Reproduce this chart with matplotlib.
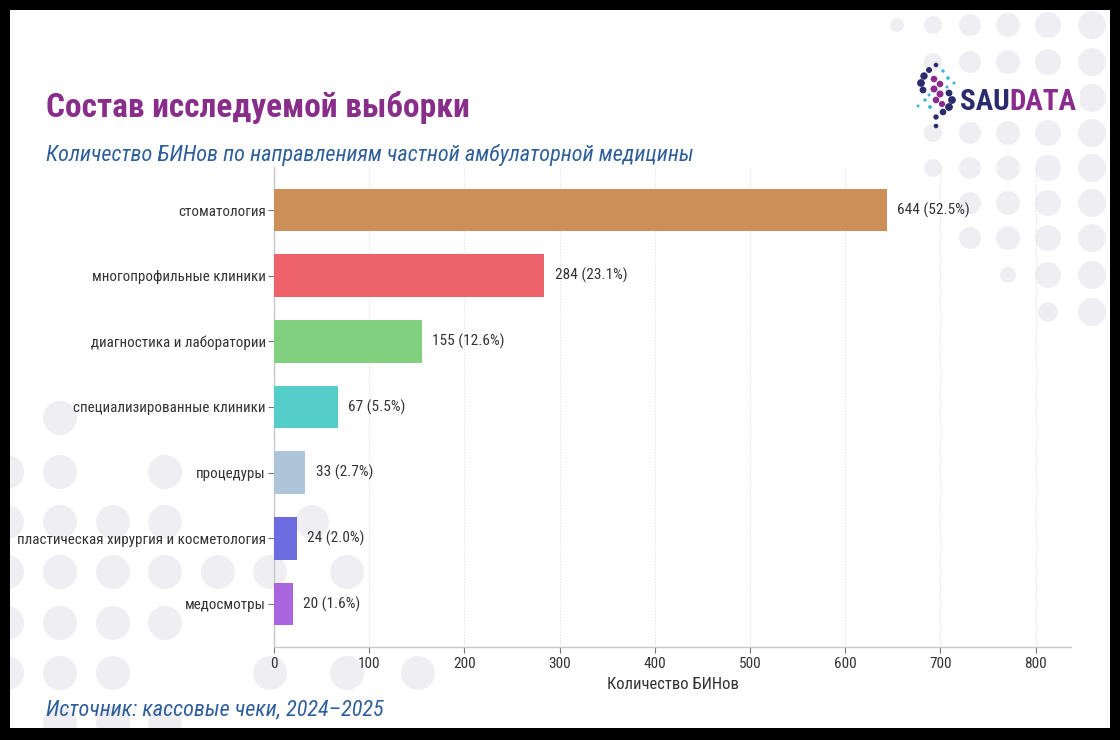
import matplotlib
matplotlib.use("Agg")
import matplotlib.pyplot as plt
from matplotlib.patches import Circle, Rectangle

# ---------------- data ----------------
categories = [
    "стоматология",
    "многопрофильные клиники",
    "диагностика и лаборатории",
    "специализированные клиники",
    "процедуры",
    "пластическая хирургия и косметология",
    "медосмотры",
]
counts = [644, 284, 155, 67, 33, 24, 20]
bar_colors = ["#CD8F58", "#EE626C", "#80D080", "#55CEC9", "#AEC4D8", "#6C6CE0", "#A865DE"]
x_ticks = [0, 100, 200, 300, 400, 500, 600, 700, 800]

title = "Состав исследуемой выборки"
subtitle = "Количество БИНов по направлениям частной амбулаторной медицины"
source = "Источник: кассовые чеки, 2024–2025"
xlabel = "Количество БИНов"

FONT = ["Roboto Condensed", "Roboto", "DejaVu Sans"]
plt.rcParams["font.family"] = FONT

W, H = 1120, 740
fig = plt.figure(figsize=(W / 100, H / 100), dpi=100, facecolor="black")

# ---------------- background layer (pixel coordinates) ----------------
bg = fig.add_axes([0, 0, 1, 1], zorder=-10)
bg.set_xlim(0, W)
bg.set_ylim(H, 0)
bg.axis("off")
bg.add_patch(Rectangle((10, 10), 1100, 718, facecolor="white", edgecolor="none", zorder=0))

circ_col = "#EFEFF3"
# top-right decorative grid
cols_x = [897, 933, 970, 1008, 1048, 1092]
cols_r = [7, 9, 11, 12, 13, 14]
tr_rows = [
    (25, [0, 1, 2, 3, 4, 5]),
    (62, [1, 2, 3, 4, 5]),
    (98, [5]),
    (133, [1, 2, 3, 4, 5]),
    (168, [1, 2, 3, 4, 5]),
    (203, [2, 3, 4, 5]),
    (238, [2, 3, 4, 5]),
    (275, [3, 4, 5]),
    (312, [4, 5]),
]
for cy, idxs in tr_rows:
    for i in idxs:
        r = cols_r[i]
        if cy == 275 and i == 3:
            r = 8
        if cy == 312 and i == 4:
            r = 10
        bg.add_patch(Circle((cols_x[i], cy), r, facecolor=circ_col, edgecolor="none", zorder=1))

# bottom-left decorative grid
bl = [
    (60, 418),
    (7, 472), (60, 472), (165, 472),
    (7, 522), (60, 522), (113, 522), (165, 522), (312, 522),
    (7, 572), (60, 572), (113, 572), (165, 572), (218, 572), (270, 572), (347, 572),
    (7, 623), (60, 623), (113, 623), (165, 623),
    (7, 673), (60, 673), (113, 673), (270, 673), (347, 673), (418, 673),
    (60, 723), (113, 723), (165, 723),
]
for cx, cy in bl:
    bg.add_patch(Circle((cx, cy), 17, facecolor=circ_col, edgecolor="none", zorder=1))

# black frame over circles that spill past the white area
bg.add_patch(Rectangle((0, 0), 10, H, facecolor="black", edgecolor="none", zorder=2))
bg.add_patch(Rectangle((0, 728), W, 12, facecolor="black", edgecolor="none", zorder=2))
bg.add_patch(Rectangle((1110, 0), 10, H, facecolor="black", edgecolor="none", zorder=2))
bg.add_patch(Rectangle((0, 0), W, 10, facecolor="black", edgecolor="none", zorder=2))

# logo (S mark made of dots)
navy = "#2B2B6E"
purple = "#8A2C8C"
teal = "#3BB3D6"
bg.add_patch(Rectangle((912, 77), 168, 43, facecolor="white", edgecolor="none", zorder=2.5))
logo_dots = [
    # upper-left arc (navy)
    (936, 65, 2.3, navy), (929, 70, 3.0, navy), (924, 76, 3.7, navy),
    (921, 83, 3.9, navy), (923, 90, 3.4, navy),
    # diagonal (purple)
    (934, 79, 3.3, purple), (940, 84, 3.3, purple), (934, 89, 3.5, purple),
    (940, 94, 3.5, purple), (936, 100, 3.3, purple), (942, 104, 3.1, purple),
    # lower-right arc (navy)
    (949, 93, 3.4, navy), (952, 100, 3.9, navy), (949, 107, 3.9, navy),
    (943, 112, 3.3, navy), (936, 117, 2.7, navy), (936, 126, 2.3, navy),
    # teal sparkles
    (943, 71, 1.7, teal), (948, 78, 1.8, teal), (954, 83, 1.5, teal),
    (947, 87, 1.5, teal), (925, 100, 1.7, teal), (918, 106, 1.5, teal),
    (930, 107, 1.9, teal), (929, 95, 1.5, teal),
]
for x, y, r, c in logo_dots:
    bg.add_patch(Circle((x, y), r, facecolor=c, edgecolor="none", zorder=3))

# ---------------- main axes ----------------
ax = fig.add_axes([274 / W, 1 - 647 / H, (1071 - 274) / W, (647 - 167) / H])
ax.set_facecolor("none")

total = sum(counts)
ypos = list(range(len(categories)))
ax.barh(ypos, counts, height=0.65, color=bar_colors, zorder=3)
ax.set_yticks(ypos)
ax.set_yticklabels(categories)
ax.invert_yaxis()
ax.set_xlim(0, max(counts) * 1.3)
ax.set_xticks(x_ticks)

for i, v in enumerate(counts):
    ax.annotate(f"{v} ({v / total * 100:.1f}%)", xy=(v, i), xytext=(7.5, 0),
                textcoords="offset points", va="center", ha="left",
                fontsize=11, color="#333333", zorder=4)

ax.xaxis.grid(True, linestyle=":", color="#DEDEDE", linewidth=0.8)
ax.set_axisbelow(True)
for s in ["top", "right"]:
    ax.spines[s].set_visible(False)
for s in ["left", "bottom"]:
    ax.spines[s].set_color("#C8C8C8")
    ax.spines[s].set_linewidth(1.0)
ax.tick_params(axis="both", colors="#777777", labelcolor="#333333", length=4, width=0.8,
               labelsize=11)
ax.tick_params(axis="y", pad=2, labelsize=10.8)
ax.set_xlabel(xlabel, fontsize=12, color="#333333", labelpad=4)

# ---------------- texts ----------------
fig.text(46 / W, 1 - 117 / H, title, fontsize=24, fontweight="bold", color="#882D8A",
         ha="left", va="baseline")
fig.text(46 / W, 1 - 161 / H, subtitle, fontsize=16, style="italic", color="#2F5F9B",
         ha="left", va="baseline")
fig.text(46 / W, 1 - 715 / H, source, fontsize=16, style="italic", color="#2F5F9B",
         ha="left", va="baseline")

t1 = fig.text(960 / W, 1 - 110 / H, "SAU", fontsize=21, fontweight="bold", color=navy,
              ha="left", va="baseline")
ax.annotate("DATA", xy=(1, 0), xycoords=t1, xytext=(0, 0), textcoords="offset points",
            fontsize=21, fontweight="bold", color=purple, ha="left", va="bottom",
            annotation_clip=False)

fig.savefig("out.png", dpi=100, facecolor="black")
